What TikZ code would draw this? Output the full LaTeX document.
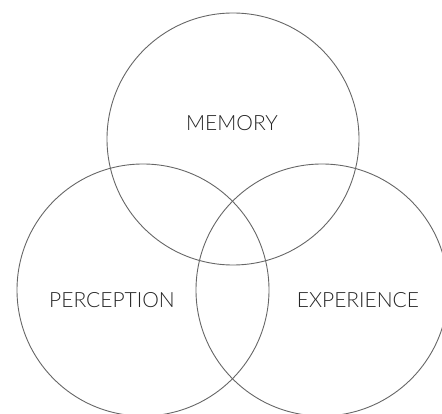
\documentclass[tikz,border=0pt]{standalone}
\usepackage{fontspec}
\setmainfont{Lato Light}
\usepackage{tikz}
\usetikzlibrary{positioning,calc}

\begin{document}
\begin{tikzpicture}[
  x=1pt, y=-1pt,
  font=\fontsize{21}{25}\selectfont,
  ring/.style={draw=black!60, line width=0.9pt, circle, inner sep=0pt, minimum size=252pt},
  lbl/.style={text=black!85, inner sep=0pt}
]
\useasboundingbox (0,0) rectangle (442,414);
\clip (0,0) rectangle (442,414);
% the three circles
\node[ring] (memory)     at (233,139) {};
\node[ring] (perception) at (143,290) {};
\node[ring] (experience) at (322,290) {};
% the labels
\node[lbl] (memlbl) at (232,123) {MEMORY};
\node[lbl] (perlbl) at (112,300) {PERCEPTION};
\node[lbl] (explbl) at (358,300) {EXPERIENCE};
\end{tikzpicture}
\end{document}
